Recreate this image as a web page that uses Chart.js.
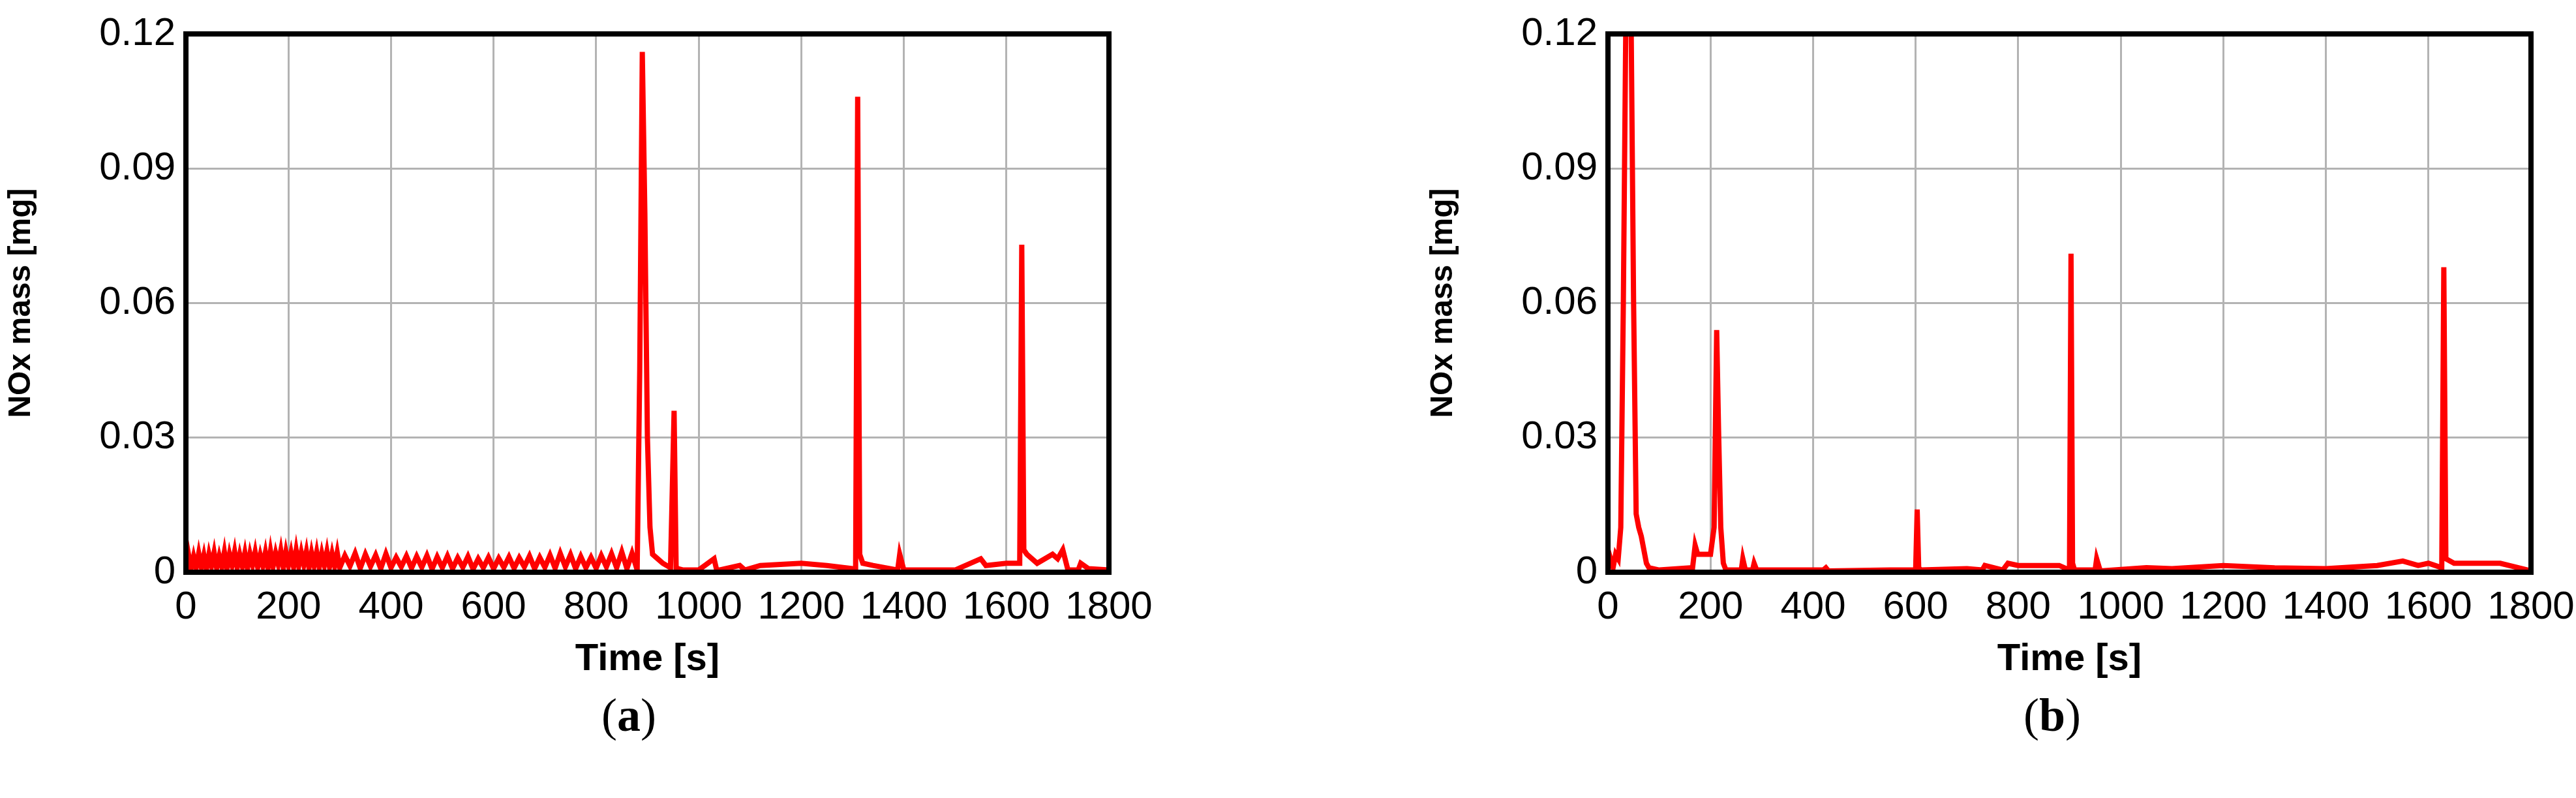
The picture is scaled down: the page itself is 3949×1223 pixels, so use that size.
<!DOCTYPE html>
<html><head><meta charset="utf-8">
<script src="https://cdn.jsdelivr.net/npm/chart.js@4"></script>
<style>
body{margin:0;background:#fff;width:3949px;height:1223px;position:relative;overflow:hidden}
.c{position:absolute;top:0}
.lab{position:absolute;top:1055px;font-family:"Liberation Serif",serif;font-size:72px}
</style></head><body>
<div class="c" style="left:0;width:1800px;height:1050px"><canvas id="a"></canvas></div>
<div class="c" style="left:2180px;width:1800px;height:1050px"><canvas id="b"></canvas></div>
<div class="lab" style="left:922px">(<b>a</b>)</div>
<div class="lab" style="left:3102px">(<b>b</b>)</div>
<script>
const xTicks=[0,200,400,600,800,1000,1200,1400,1600,1800];
const yTicks=[0,0.03,0.06,0.09,0.12];
const timeA=[0,5,10,15,20,25,30,35,40,45,50,55,60,65,70,75,80,85,90,95,100,105,110,115,120,125,130,135,140,145,150,155,160,165,170,175,180,185,190,195,200,205,210,215,220,225,230,235,240,245,250,255,260,265,270,275,280,285,290,295,300,310,320,330,340,350,360,370,380,390,400,410,420,430,440,450,460,470,480,490,500,510,520,530,540,550,560,570,580,590,600,610,620,630,640,650,660,670,680,690,700,710,720,730,740,750,760,770,780,790,800,810,820,830,840,850,860,870,880,885,890,895,900,905,910,920,930,945,952,956,960,970,1000,1030,1035,1040,1080,1090,1120,1200,1250,1300,1306,1310,1314,1320,1340,1388,1392,1400,1500,1550,1560,1600,1620,1626,1630,1634,1640,1660,1690,1700,1710,1720,1740,1745,1760,1800];
const noxA=[0.001,0.004,0.0008,0.0035,0.001,0.0042,0.0012,0.0038,0.0006,0.004,0.0015,0.0044,0.0009,0.0036,0.0013,0.0045,0.0007,0.004,0.0016,0.0046,0.001,0.0039,0.0014,0.0043,0.0008,0.0041,0.0017,0.0045,0.0011,0.0038,0.0015,0.0044,0.0009,0.0047,0.0013,0.0042,0.0018,0.0048,0.001,0.0045,0.0016,0.0043,0.0012,0.0049,0.0014,0.0044,0.0017,0.0046,0.001,0.0043,0.0015,0.0045,0.0011,0.0042,0.0016,0.0046,0.0012,0.0041,0.0014,0.0044,0.001,0.0037,0.0014,0.0042,0.0009,0.004,0.0013,0.0038,0.0008,0.0041,0.001,0.0033,0.0012,0.0036,0.0009,0.0035,0.0011,0.0037,0.0007,0.0034,0.001,0.0036,0.0008,0.0032,0.0011,0.0035,0.0007,0.003,0.001,0.0033,0.0008,0.0031,0.0011,0.0034,0.0009,0.0032,0.0012,0.0036,0.0008,0.0033,0.0011,0.0038,0.0009,0.0042,0.0012,0.0039,0.0008,0.0035,0.001,0.0033,0.0009,0.0037,0.0012,0.0041,0.001,0.0045,0.0008,0.0042,0.0005,0.045,0.116,0.08,0.03,0.01,0.004,0.003,0.002,0.001,0.036,0.001,0.0008,0.0005,0.0005,0.003,0.0005,0.0005,0.0015,0.0005,0.0015,0.002,0.0015,0.0008,0.0008,0.106,0.004,0.002,0.0015,0.0005,0.004,0.0005,0.0005,0.003,0.0015,0.002,0.002,0.002,0.073,0.005,0.004,0.002,0.004,0.003,0.005,0.0005,0.0005,0.002,0.0008,0.0005];
const timeB=[0,5,10,15,20,25,30,35,40,45,50,55,60,65,75,80,100,160,165,170,175,200,207,212,216,220,225,230,260,263,268,282,285,290,400,420,425,430,550,600,603,606,610,700,730,735,770,780,800,850,880,900,903,906,910,950,953,960,1050,1100,1200,1300,1400,1500,1550,1580,1600,1626,1630,1634,1650,1700,1740,1800];
const noxB=[0.001,0.003,0.001,0.004,0.003,0.01,0.06,0.125,0.125,0.125,0.06,0.013,0.01,0.008,0.002,0.001,0.0005,0.001,0.001,0.006,0.004,0.004,0.01,0.054,0.03,0.01,0.002,0.0005,0.0005,0.003,0.0005,0.0005,0.002,0.0005,0.0005,0.0005,0.001,0.0003,0.0005,0.0005,0.014,0.001,0.0005,0.0008,0.0005,0.0015,0.0005,0.002,0.0015,0.0015,0.0015,0.0005,0.071,0.002,0.0005,0.0005,0.003,0.0003,0.001,0.0008,0.0015,0.001,0.0008,0.0015,0.0025,0.0015,0.002,0.001,0.068,0.003,0.002,0.002,0.002,0.0003];
const frame={id:'frame',afterDraw(c){const a=c.chartArea,x=c.ctx;x.save();x.strokeStyle='#000';x.lineWidth=8;x.strokeRect(a.left,a.top,a.right-a.left,a.bottom-a.top);x.restore();}};
const F='"Liberation Sans Narrow","Liberation Sans",sans-serif';
function make(id,t,v){
  new Chart(document.getElementById(id),{type:'line',
    data:{datasets:[{data:t.map((x,i)=>({x:x,y:v[i]})),borderColor:'#ff0000',borderWidth:8,pointRadius:0,tension:0}]},
    options:{responsive:true,maintainAspectRatio:false,animation:false,
      layout:{padding:{top:38,right:100,left:0,bottom:0}},
      plugins:{legend:{display:false},tooltip:{enabled:false}},
      scales:{
        x:{type:'linear',min:0,max:1800,afterBuildTicks(s){s.ticks=xTicks.map(v=>({value:v}))},
          grid:{color:'#b3b3b3',lineWidth:3,drawTicks:false},border:{display:false},
          ticks:{color:'#000',padding:18,maxRotation:0,font:{family:F,size:60},callback:v=>String(v)},
          title:{display:true,text:'Time [s]',color:'#000',padding:{top:10},font:{family:F,size:58,weight:'bold'}},
          afterFit(s){s.height=173}},
        y:{min:0,max:0.12,afterBuildTicks(s){s.ticks=yTicks.map(v=>({value:v}))},
          grid:{color:'#b3b3b3',lineWidth:3,drawTicks:false},border:{display:false},
          ticks:{color:'#000',padding:16,font:{family:F,size:60},callback:v=>String(v)},
          title:{display:true,text:'NOx mass [mg]',color:'#000',font:{family:'"Liberation Sans",sans-serif',size:48,weight:'bold'}},
          afterFit(s){s.width=285}}
      }},plugins:[frame]});
}
make('a',timeA,noxA);
make('b',timeB,noxB);
</script></body></html>
